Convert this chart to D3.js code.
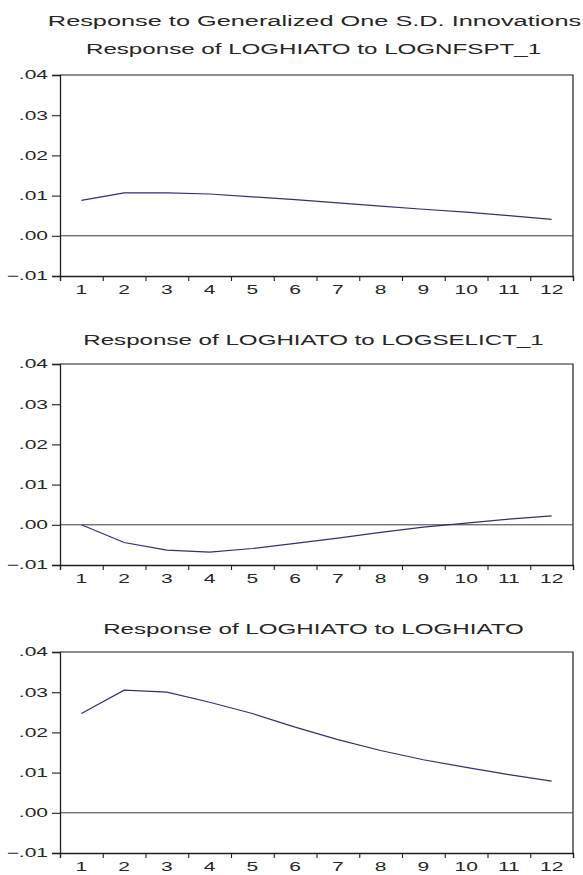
<!DOCTYPE html>
<html>
<head>
<meta charset="utf-8">
<script src="https://cdn.jsdelivr.net/npm/d3@7/dist/d3.min.js"></script>
<style>
  html, body { margin: 0; padding: 0; background: #fff; }
  svg { display: block; }
  text { font-family: "Liberation Sans", Arial, sans-serif; fill: #262626; }
</style>
</head>
<body>
<svg id="chart" width="583" height="875"></svg>
<script>
// Impulse-response horizons
const periods = [1, 2, 3, 4, 5, 6, 7, 8, 9, 10, 11, 12];

// Response of LOGHIATO to each shock
const respNfspt = [0.0088, 0.0107, 0.0107, 0.0104, 0.0097, 0.0090, 0.0082, 0.0074, 0.0066, 0.0059, 0.0050, 0.0041];
const respSelic = [0.0000, -0.0044, -0.0063, -0.0068, -0.0059, -0.0046, -0.0033, -0.0019, -0.0006, 0.0004, 0.0014, 0.0022];
const respHiato = [0.0247, 0.0305, 0.0300, 0.0275, 0.0247, 0.0213, 0.0182, 0.0155, 0.0132, 0.0113, 0.0095, 0.0079];

const yTicks = [-0.01, 0.00, 0.01, 0.02, 0.03, 0.04];
const mainTitle = "Response to Generalized One S.D. Innovations";
const panelTitles = [
  "Response of LOGHIATO to LOGNFSPT_1",
  "Response of LOGHIATO to LOGSELICT_1",
  "Response of LOGHIATO to LOGHIATO"
];
const panelSeries = [respNfspt, respSelic, respHiato];

// Layout
const plotLeft = 60, plotRight = 573;
const panelTops = [75, 364, 652];
const titleBaselines = [54, 345, 634];
const panelH = 201;
const titleStretch = 1.7;   // glyphs are drawn wide
const tickStretch = 1.75;

const svg = d3.select("#chart");

function wideText(g, x, y, str, size, stretch) {
  return g.append("text")
    .attr("transform", `translate(${x},${y}) scale(${stretch},1)`)
    .attr("text-anchor", "middle")
    .attr("font-size", size)
    .text(str);
}

const cx = (plotLeft + plotRight) / 2;
wideText(svg, cx - 2, 26, mainTitle, 14.9, titleStretch);

const x = d3.scaleBand().domain(periods).range([plotLeft, plotRight]).padding(0);
const xEdge = d3.scaleLinear().domain([0.5, 12.5]).range([plotLeft, plotRight]);
const fmt = d => d3.format(".2f")(d).replace("0.", ".");

panelSeries.forEach((vals, i) => {
  const top = panelTops[i];
  const bottom = top + panelH;
  const y = d3.scaleLinear().domain([-0.01, 0.04]).range([bottom, top]);
  const g = svg.append("g");

  wideText(g, cx - 3, titleBaselines[i], panelTitles[i], 14.2, titleStretch);

  // frame: top and right edges
  g.append("path")
    .attr("d", `M${plotLeft},${top}H${plotRight}V${bottom}`)
    .attr("fill", "none").attr("stroke", "#1e1e1e").attr("stroke-width", 1.2);

  // zero line
  g.append("line")
    .attr("x1", plotLeft).attr("x2", plotRight)
    .attr("y1", y(0)).attr("y2", y(0))
    .attr("stroke", "#3a3a3a").attr("stroke-width", 1);

  // left axis
  const ya = g.append("g").attr("transform", `translate(${plotLeft},0)`)
    .call(d3.axisLeft(y).tickValues(yTicks).tickSize(8).tickPadding(4).tickFormat(fmt));
  ya.select(".domain").attr("stroke", "#1e1e1e").attr("stroke-width", 1.3);
  ya.selectAll(".tick line").attr("stroke", "#1e1e1e").attr("stroke-width", 1.1);
  ya.selectAll(".tick text")
    .attr("x", null)
    .attr("transform", `translate(-12,0) scale(${tickStretch},1)`)
    .attr("font-size", 12).attr("font-family", "Liberation Sans, Arial, sans-serif")
    .attr("fill", "#262626");

  // bottom axis: tick marks at period boundaries
  const xa = g.append("g").attr("transform", `translate(0,${bottom})`)
    .call(d3.axisBottom(xEdge).tickValues(d3.range(0.5, 13, 1)).tickSize(5).tickFormat(""));
  xa.select(".domain").attr("stroke", "#1e1e1e").attr("stroke-width", 1.3);
  xa.selectAll(".tick line").attr("stroke", "#1e1e1e").attr("stroke-width", 1.1);

  // bottom axis labels at period centres
  const xl = g.append("g").attr("transform", `translate(0,${bottom})`)
    .call(d3.axisBottom(x).tickSize(0).tickPadding(0));
  xl.select(".domain").remove();
  xl.selectAll(".tick text")
    .attr("y", null).attr("dy", null)
    .attr("transform", `translate(0,17.5) scale(${tickStretch},1)`)
    .attr("font-size", 12).attr("font-family", "Liberation Sans, Arial, sans-serif")
    .attr("fill", "#262626");

  // response line
  const line = d3.line()
    .x((d, j) => x(periods[j]) + x.bandwidth() / 2)
    .y(d => y(d));
  g.append("path")
    .datum(vals)
    .attr("d", line)
    .attr("fill", "none")
    .attr("stroke", "#30307a")
    .attr("stroke-width", 1.2);
});
</script>
</body>
</html>
